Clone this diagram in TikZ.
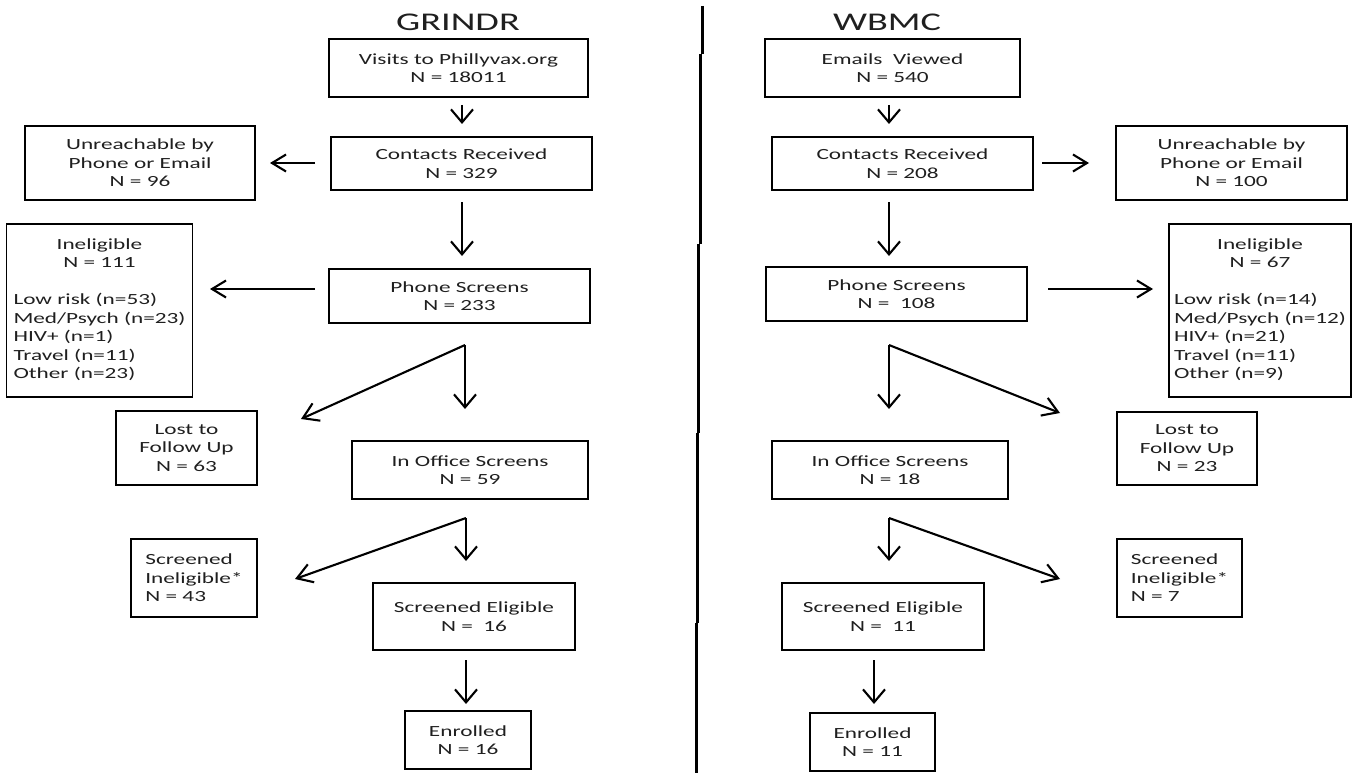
\documentclass[tikz,border=0pt]{standalone}
\usepackage{fontspec}
\setmainfont[FakeStretch=1.5]{Carlito}
\usetikzlibrary{arrows.meta}
\newcommand\boxfont{\fontsize{15.5}{18.5}\selectfont}
\newcommand\titlefont{\fontsize{25.5}{30}\selectfont}
\newcommand\mc[1]{\multicolumn{1}{@{}c@{}}{#1}}
\tikzset{
  box/.style={draw=black, line width=1.8pt, inner sep=0pt, align=center, font=\boxfont, text=black!88},
  ttl/.style={font=\titlefont, text=black!88},
  arrv/.style={line width=2.1pt, -{Straight Barb[length=13pt,width=22pt]}},
  arrh/.style={line width=2.1pt, -{Straight Barb[length=14pt,width=17pt]}},
  arrd/.style={line width=2.1pt, -{Straight Barb[length=15pt,width=19pt]}},
  divider/.style={line width=3pt},
}
\begin{document}
\begin{tikzpicture}[x=1pt,y=-1pt]
\useasboundingbox (0,0) rectangle (1360,773);
% divider (slightly stepped, as in the scan)
\coordinate (d0) at (702,6);    \coordinate (d1) at (702,54);
\coordinate (d2) at (700,54);   \coordinate (d3) at (700,244);
\coordinate (d4) at (698.5,244);\coordinate (d5) at (698.5,433);
\coordinate (d6) at (697.5,433);\coordinate (d7) at (697.5,623);
\coordinate (d8) at (696.5,623);\coordinate (d9) at (696.5,773);
\draw[divider] (d0) -- (d1) (d2) -- (d3) (d4) -- (d5) (d6) -- (d7) (d8) -- (d9);
% titles
\node[ttl] (tL) at (458,22) {GRINDR};
\node[ttl] (tR) at (887,22) {WBMC};
% ---------- left column ----------
\node[box, minimum width=259pt, minimum height=58pt] (visitsL) at (458.5,68) {Visits to Phillyvax.org\\N = 18011};
\node[box, minimum width=261pt, minimum height=53pt] (contactsL) at (461.5,163.5) {Contacts Received\\N = 329};
\node[box, minimum width=230pt, minimum height=74pt] (unreachL) at (140,163) {Unreachable by\\Phone or Email\\N = 96};
\node[box, minimum width=186pt, minimum height=173pt] (ineligL) at (99.5,310.5) {\begin{tabular}{@{}l@{}}\mc{Ineligible}\\ \mc{N = 111}\\ \\ Low risk (n=53)\\ Med/Psych (n=23)\\ HIV+ (n=1)\\ Travel (n=11)\\ Other (n=23)\end{tabular}};
\node[box, minimum width=261pt, minimum height=54pt] (phoneL) at (459.5,296) {Phone Screens\\N = 233};
\node[box, minimum width=141pt, minimum height=74pt] (lostL) at (186.5,448) {Lost to\\Follow Up\\N = 63};
\node[box, minimum width=236pt, minimum height=58pt] (officeL) at (470,470) {In Office Screens\\N = 59};
\node[box, minimum width=126pt, minimum height=78pt, align=left] (sinelL) at (194,578) {Screened\\Ineligible*\\N = 43};
\node[box, minimum width=202pt, minimum height=67pt] (seligL) at (474,616.5) {Screened Eligible\\N = \ 16};
\node[box, minimum width=126pt, minimum height=58pt] (enrolL) at (468,740) {Enrolled\\N = 16};
% ---------- right column ----------
\node[box, minimum width=255pt, minimum height=58pt] (emailsR) at (892.5,68) {Emails\ \ Viewed\\N = 540};
\node[box, minimum width=261pt, minimum height=53pt] (contactsR) at (902.5,163.5) {Contacts Received\\N = 208};
\node[box, minimum width=231pt, minimum height=74pt] (unreachR) at (1231.5,163) {Unreachable by\\Phone or Email\\N = 100};
\node[box, minimum width=182pt, minimum height=173pt] (ineligR) at (1260,310.5) {\begin{tabular}{@{}l@{}}\mc{Ineligible}\\ \mc{N = 67}\\ \\ Low risk (n=14)\\ Med/Psych (n=12)\\ HIV+ (n=21)\\ Travel (n=11)\\ Other (n=9)\end{tabular}};
\node[box, minimum width=261pt, minimum height=54pt] (phoneR) at (896.5,294) {Phone Screens\\N = \ 108};
\node[box, minimum width=140pt, minimum height=73pt] (lostR) at (1187,448.5) {Lost to\\Follow Up\\N = 23};
\node[box, minimum width=236pt, minimum height=58pt] (officeR) at (890,470) {In Office Screens\\N = 18};
\node[box, minimum width=125pt, minimum height=78pt, align=left] (sinelR) at (1179.5,578) {Screened\\Ineligible*\\N = 7};
\node[box, minimum width=202pt, minimum height=67pt] (seligR) at (883,616.5) {Screened Eligible\\N = \ 11};
\node[box, minimum width=125pt, minimum height=58pt] (enrolR) at (872.5,742) {Enrolled\\N = 11};
% ---------- arrow end points (left) ----------
\coordinate (l1a) at (462,105);  \coordinate (l1b) at (462,124);
\coordinate (l2a) at (315,163);  \coordinate (l2b) at (270,163);
\coordinate (l3a) at (462,202);  \coordinate (l3b) at (462,256);
\coordinate (l4a) at (315,289);  \coordinate (l4b) at (210,289);
\coordinate (l5f) at (465,345);  \coordinate (l5d) at (465,409); \coordinate (l5s) at (301,419);
\coordinate (l6f) at (466,518);  \coordinate (l6d) at (466,561); \coordinate (l6s) at (295,579);
\coordinate (l7a) at (466,660);  \coordinate (l7b) at (466,704);
% ---------- arrow end points (right) ----------
\coordinate (r1a) at (889,105);  \coordinate (r1b) at (889,124);
\coordinate (r2a) at (1042,163); \coordinate (r2b) at (1089,163);
\coordinate (r3a) at (889,202);  \coordinate (r3b) at (889,256);
\coordinate (r4a) at (1048,289); \coordinate (r4b) at (1153,289);
\coordinate (r5f) at (889,345);  \coordinate (r5d) at (889,409); \coordinate (r5s) at (1060,413);
\coordinate (r6f) at (889,518);  \coordinate (r6d) at (889,561); \coordinate (r6s) at (1060,579);
\coordinate (r7a) at (874,660);  \coordinate (r7b) at (874,704);
% ---------- arrows ----------
\draw[arrv] (l1a) -- (l1b);
\draw[arrh] (l2a) -- (l2b);
\draw[arrv] (l3a) -- (l3b);
\draw[arrh] (l4a) -- (l4b);
\draw[arrv] (l5f) -- (l5d);
\draw[arrd] (l5f) -- (l5s);
\draw[arrv] (l6f) -- (l6d);
\draw[arrd] (l6f) -- (l6s);
\draw[arrv] (l7a) -- (l7b);
\draw[arrv] (r1a) -- (r1b);
\draw[arrh] (r2a) -- (r2b);
\draw[arrv] (r3a) -- (r3b);
\draw[arrh] (r4a) -- (r4b);
\draw[arrv] (r5f) -- (r5d);
\draw[arrd] (r5f) -- (r5s);
\draw[arrv] (r6f) -- (r6d);
\draw[arrd] (r6f) -- (r6s);
\draw[arrv] (r7a) -- (r7b);
\end{tikzpicture}
\end{document}
